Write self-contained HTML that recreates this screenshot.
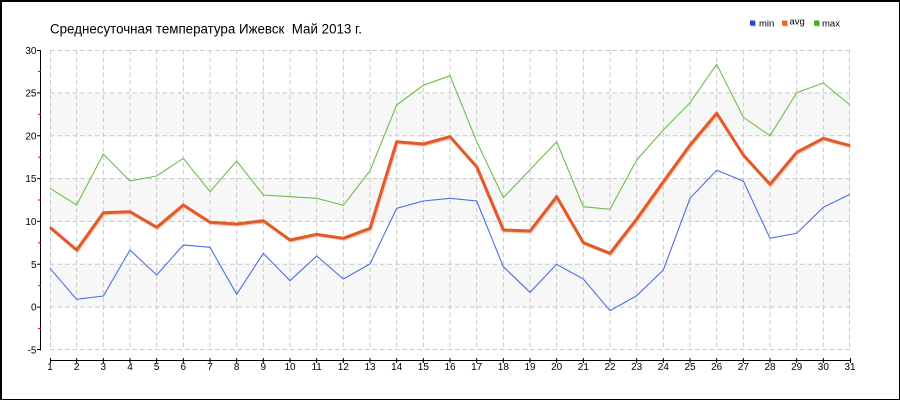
<!DOCTYPE html>
<html><head><meta charset="utf-8"><style>
html,body{margin:0;padding:0;background:#fff;}
svg{display:block;}
text{font-family:"Liberation Sans","DejaVu Sans",sans-serif;}
</style></head><body>
<svg width="900" height="400" viewBox="0 0 900 400" xmlns="http://www.w3.org/2000/svg">
<rect x="0" y="0" width="900" height="400" fill="#fff"/>
<!-- bands -->
<g fill="#f7f7f7">
<rect x="50" y="92.86" width="800" height="42.85"/>
<rect x="50" y="178.57" width="800" height="42.86"/>
<rect x="50" y="264.29" width="800" height="42.85"/>
</g>
<!-- grid -->
<g stroke="#c8c8c8" stroke-width="1" stroke-dasharray="4.5,3" fill="none">
<path d="M50,50.5H850M50,92.9H850M50,135.7H850M50,178.6H850M50,221.4H850M50,264.3H850M50,307.1H850M50,349.5H850"/>
<path d="M50.5,50V350M76.67,50V350M103.33,50V350M130,50V350M156.67,50V350M183.33,50V350M210,50V350M236.67,50V350M263.33,50V350M290,50V350M316.67,50V350M343.33,50V350M370,50V350M396.67,50V350M423.33,50V350M450,50V350M476.67,50V350M503.33,50V350M530,50V350M556.67,50V350M583.33,50V350M610,50V350M636.67,50V350M663.33,50V350M690,50V350M716.67,50V350M743.33,50V350M770,50V350M796.67,50V350M823.33,50V350M849.5,50V350"/>
</g>
<!-- y axis -->
<path d="M40.5,50V350.5" stroke="#000" stroke-width="1"/>
<path d="M37,50.5H41M37,92.9H41M37,135.7H41M37,178.6H41M37,221.4H41M37,264.3H41M37,307.1H41M37,349.5H41" stroke="#000" stroke-width="1"/>
<path d="M38,71.4H41M38,114.3H41M38,157.1H41M38,200H41M38,242.9H41M38,285.7H41M38,328.6H41" stroke="#e00000" stroke-width="1"/>
<g font-size="10" text-anchor="end" fill="#000">
<text x="36.5" y="54">30</text>
<text x="36.5" y="96.5">25</text>
<text x="36.5" y="139.3">20</text>
<text x="36.5" y="182.2">15</text>
<text x="36.5" y="225">10</text>
<text x="36.5" y="267.9">5</text>
<text x="36.5" y="310.7">0</text>
<text x="36.5" y="353.5">-5</text>
</g>
<!-- x axis -->
<path d="M50,360.5H851" stroke="#000" stroke-width="1"/>
<path d="M50.5,358V363M76.67,358V363M103.33,358V363M130,358V363M156.67,358V363M183.33,358V363M210,358V363M236.67,358V363M263.33,358V363M290,358V363M316.67,358V363M343.33,358V363M370,358V363M396.67,358V363M423.33,358V363M450,358V363M476.67,358V363M503.33,358V363M530,358V363M556.67,358V363M583.33,358V363M610,358V363M636.67,358V363M663.33,358V363M690,358V363M716.67,358V363M743.33,358V363M770,358V363M796.67,358V363M823.33,358V363M850.5,358V363" stroke="#000" stroke-width="1"/>
<g font-size="10" text-anchor="middle" fill="#000">
<text x="50" y="370">1</text><text x="76.67" y="370">2</text><text x="103.33" y="370">3</text><text x="130" y="370">4</text><text x="156.67" y="370">5</text><text x="183.33" y="370">6</text><text x="210" y="370">7</text><text x="236.67" y="370">8</text><text x="263.33" y="370">9</text><text x="290" y="370">10</text><text x="316.67" y="370">11</text><text x="343.33" y="370">12</text><text x="370" y="370">13</text><text x="396.67" y="370">14</text><text x="423.33" y="370">15</text><text x="450" y="370">16</text><text x="476.67" y="370">17</text><text x="503.33" y="370">18</text><text x="530" y="370">19</text><text x="556.67" y="370">20</text><text x="583.33" y="370">21</text><text x="610" y="370">22</text><text x="636.67" y="370">23</text><text x="663.33" y="370">24</text><text x="690" y="370">25</text><text x="716.67" y="370">26</text><text x="743.33" y="370">27</text><text x="770" y="370">28</text><text x="796.67" y="370">29</text><text x="823.33" y="370">30</text><text x="850" y="370">31</text>
</g>
<!-- series -->
<polyline fill="none" stroke="#6abf4b" stroke-width="1.1" stroke-linejoin="miter" points="50,188.3 76.67,205 103.33,154 130,181 156.67,176 183.33,158.3 210,191.7 236.67,161 263.33,195 290,196.7 316.67,198.3 343.33,205.3 370,170.7 396.67,105 423.33,85.3 450,75.7 476.67,141.5 503.33,197.7 530,169.7 556.67,141.7 583.33,206.7 610,209.3 636.67,160 663.33,130 690,102.7 716.67,64.3 743.33,117.3 770,135.7 796.67,92.7 823.33,83 850,105"/>
<polyline fill="none" stroke="#f6c0a8" stroke-width="3" stroke-linejoin="round" transform="translate(0.8,1)" points="50,227.3 76.67,250 103.33,212.7 130,211.7 156.67,227.3 183.33,205 210,222.3 236.67,224 263.33,220.7 290,240 316.67,234.3 343.33,238.3 370,228.3 396.67,141.7 423.33,144 450,136.7 476.67,166.7 503.33,230 530,231 556.67,196.7 583.33,242.7 610,253.3 636.67,219 663.33,181.7 690,145 716.67,113.3 743.33,155 770,184.3 796.67,152.3 823.33,138.3 850,145.7"/>
<polyline fill="none" stroke="#e2592a" stroke-width="3" stroke-linejoin="round" points="50,227.3 76.67,250 103.33,212.7 130,211.7 156.67,227.3 183.33,205 210,222.3 236.67,224 263.33,220.7 290,240 316.67,234.3 343.33,238.3 370,228.3 396.67,141.7 423.33,144 450,136.7 476.67,166.7 503.33,230 530,231 556.67,196.7 583.33,242.7 610,253.3 636.67,219 663.33,181.7 690,145 716.67,113.3 743.33,155 770,184.3 796.67,152.3 823.33,138.3 850,145.7"/>
<polyline fill="none" stroke="#4a6ee2" stroke-width="1.1" stroke-linejoin="miter" points="50,268.3 76.67,299.3 103.33,296 130,250 156.67,275 183.33,245 210,247.3 236.67,294.3 263.33,253.3 290,280.7 316.67,256 343.33,279 370,264 396.67,208.3 423.33,201 450,198.3 476.67,201 503.33,266.7 530,292.3 556.67,264.3 583.33,279 610,310.7 636.67,295.7 663.33,270 690,198.3 716.67,170.3 743.33,181 770,238.3 796.67,233.3 823.33,207.3 850,194.3"/>
<!-- title -->
<text x="50" y="33.3" font-size="13.5" textLength="312" lengthAdjust="spacingAndGlyphs" fill="#000">Среднесуточная температура Ижевск&#160; Май 2013 г.</text>
<!-- legend -->
<rect x="751" y="21.5" width="5" height="5" fill="#bbb"/>
<rect x="750" y="20.5" width="5" height="5" fill="#2244dd"/>
<text x="759" y="26.7" font-size="9.5" fill="#000">min</text>
<rect x="783" y="21.5" width="5" height="5" fill="#bbb"/>
<rect x="782" y="20.5" width="5" height="5" fill="#ee6622"/>
<text x="789.5" y="24.3" font-size="9.5" fill="#000">avg</text>
<rect x="815" y="21.5" width="5" height="5" fill="#bbb"/>
<rect x="814" y="20.5" width="5" height="5" fill="#44aa22"/>
<text x="822" y="26.7" font-size="9.5" fill="#000">max</text>
<!-- border -->
<rect x="0" y="0" width="900" height="2" fill="#000"/>
<rect x="0" y="0" width="2" height="400" fill="#000"/>
<rect x="899" y="0" width="1" height="400" fill="#000"/>
<rect x="0" y="399" width="900" height="1" fill="#000"/>
</svg>
</body></html>
